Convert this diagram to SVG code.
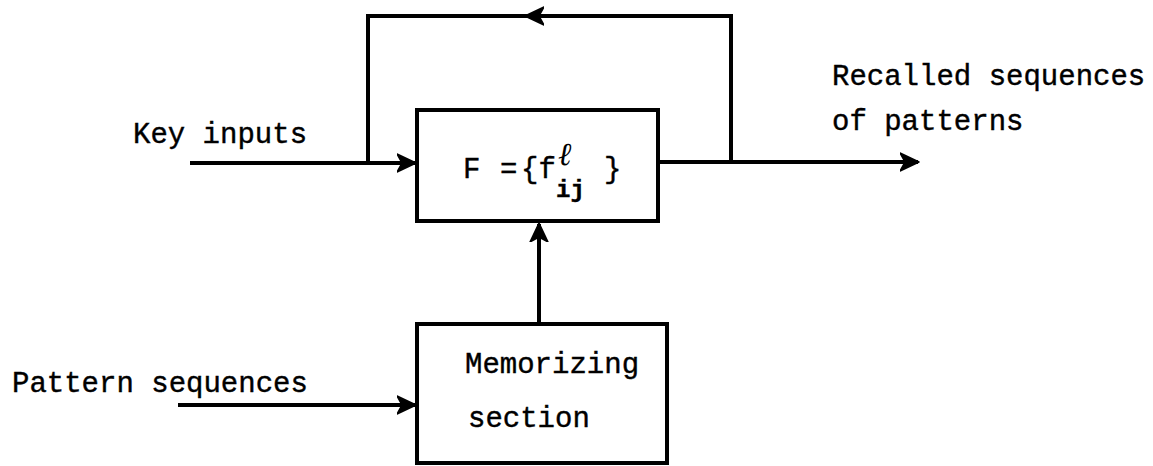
<svg xmlns="http://www.w3.org/2000/svg" width="1153" height="466" viewBox="0 0 1153 466">
  <style>
    .t { font-family: "Liberation Mono", "Courier New", monospace; font-size: 29px; fill: #000; stroke: #000; stroke-width: 0.4px; }
    .box { fill: #fff; stroke: #000; stroke-width: 4; }
    .ln { fill: none; stroke: #000; stroke-width: 4; }
  </style>
  <defs>
    <marker id="arr" markerUnits="userSpaceOnUse" markerWidth="22" markerHeight="22" viewBox="0 -11 22 22" refX="18" refY="0" orient="auto">
      <path d="M19,0 L0,-9 L5,0 L0,9 Z" fill="#000" stroke="#000" stroke-width="1.5" stroke-linejoin="round"/>
    </marker>
  </defs>
  <rect width="1153" height="466" fill="#fff"/>
  <g id="connectors">
    <path class="ln" d="M190,163 H415" marker-end="url(#arr)"/>
    <path class="ln" d="M658,162 H918" marker-end="url(#arr)"/>
    <path class="ln" d="M731,162 V16 H526" marker-end="url(#arr)"/>
    <path class="ln" d="M530,16 H368 V163"/>
    <path class="ln" d="M178,405 H415" marker-end="url(#arr)"/>
    <path class="ln" d="M539,324 V224" marker-end="url(#arr)"/>
  </g>
  <g id="node-F">
    <rect class="box" x="417" y="110" width="241" height="111"/>
    <text class="t"><tspan x="463" y="178">F</tspan><tspan x="500" y="178">=</tspan><tspan x="521" y="178">{f</tspan><tspan x="558" y="165" style="font-family: 'DejaVu Serif', serif; font-style: italic; font-size: 32px; stroke-width: 0;">ℓ</tspan><tspan x="556" y="197" style="font-weight: bold; font-size: 24px;">ij</tspan><tspan x="604" y="178">}</tspan></text>
  </g>
  <g id="node-memorizing">
    <rect class="box" x="417" y="324" width="250" height="139"/>
    <text class="t" x="465" y="373">Memorizing</text>
    <text class="t" x="468" y="427">section</text>
  </g>
  <g id="labels">
    <text class="t" x="133" y="143">Key inputs</text>
    <text class="t" x="832" y="85">Recalled sequences</text>
    <text class="t" x="832" y="130">of patterns</text>
    <text class="t" x="12" y="392">Pattern sequences</text>
  </g>
</svg>
